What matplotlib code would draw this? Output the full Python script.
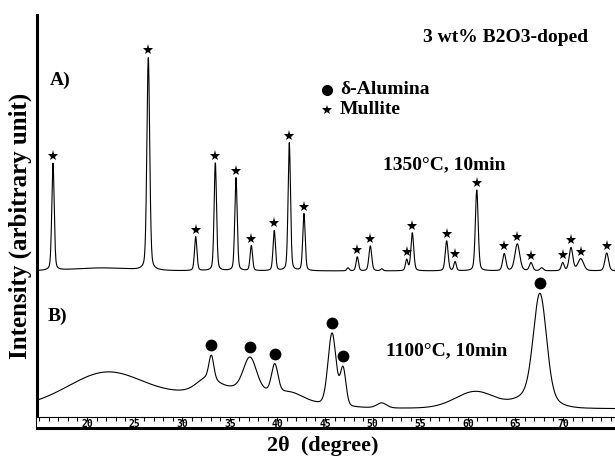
import numpy as np
import matplotlib.pyplot as plt
from matplotlib.ticker import MultipleLocator, FixedLocator

plt.rcParams['font.family'] = ['Liberation Serif', 'DejaVu Serif']
plt.rcParams['font.weight'] = 'bold'

# 2-theta range of the scan
tt_min, tt_max = 14.75, 75.46
two_theta = np.arange(tt_min, tt_max, 0.02)
ruler_labels = [20, 25, 30, 35, 40, 45, 50, 55, 60, 65, 70]

# A) 1350 C, 10 min -- peaks: position, height, width (fwhm)
a_pos = [16.43, 21.5, 26.44, 31.42, 33.48, 35.65, 37.26, 39.67, 41.25, 42.79,
         47.42, 48.39, 49.76, 50.96, 53.58, 54.17, 57.78, 58.66, 60.94,
         63.83, 65.20, 66.64, 67.76, 69.97, 70.84, 71.86, 74.59]
a_height = [107, 3, 213, 34, 108, 93, 25, 40, 128, 57,
            3, 14, 25, 2, 11, 38, 30, 9, 81,
            17, 27, 8, 3, 8, 23, 12, 18]
a_fwhm = [0.3, 7.0, 0.35, 0.3, 0.3, 0.3, 0.3, 0.3, 0.3, 0.3,
          0.3, 0.3, 0.35, 0.3, 0.3, 0.35, 0.35, 0.3, 0.35,
          0.4, 0.6, 0.4, 0.4, 0.35, 0.45, 0.7, 0.45]
a_star = [16.43, 26.44, 31.42, 33.48, 35.65, 37.26, 39.67, 41.25, 42.79,
          48.39, 49.76, 53.58, 54.17, 57.78, 58.66, 60.94,
          63.83, 65.20, 66.64, 69.97, 70.84, 71.86, 74.59]
a_base = 157

# B) 1100 C, 10 min
b_pos = [22.1, 35.5, 32.6, 33.06, 37.12, 39.72, 41.5, 45.74, 46.9, 50.95,
         60.8, 67.0, 67.58]
b_height = [36, 20, 12, 23, 32, 28, 6, 72, 37, 5,
            17, 14, 102]
b_fwhm = [10.0, 12.0, 2.5, 0.6, 1.6, 0.8, 3.0, 1.0, 0.7, 1.2,
          5.0, 4.0, 1.6]
b_dot = [33.06, 37.12, 39.72, 45.74, 46.9, 67.58]
b_base = 19


def pattern(x, pos, height, fwhm, base, eta=0.3):
    x = np.asarray(x, dtype=float)
    y = np.full_like(x, base)
    for p, h, w in zip(pos, height, fwhm):
        g = np.exp(-4 * np.log(2) * ((x - p) / w) ** 2)
        l = 1 / (1 + 4 * ((x - p) / w) ** 2)
        y += h * ((1 - eta) * g + eta * l)
    return y


fig = plt.figure(figsize=(6.15, 4.57), dpi=100)
ax = fig.add_axes([37 / 615, 29 / 457, 578 / 615, 413 / 457])

ax.plot(two_theta, pattern(two_theta, a_pos, a_height, a_fwhm, a_base),
        color='black', lw=0.8)
ax.plot(two_theta, pattern(two_theta, b_pos, b_height, b_fwhm, b_base, eta=0.15),
        color='black', lw=0.8)

ax.plot(a_star, pattern(a_star, a_pos, a_height, a_fwhm, a_base) + 7,
        '*', color='black', ms=8, mew=0)
ax.plot(b_dot, pattern(b_dot, b_pos, b_height, b_fwhm, b_base, eta=0.15) + 10,
        'o', color='black', ms=8.5, mew=0)

ax.set_xlim(tt_min, tt_max)
ax.set_ylim(0, 413)
ax.set_xticks([])
ax.set_yticks([])
for s in ['top', 'right', 'bottom']:
    ax.spines[s].set_visible(False)
ax.spines['left'].set_linewidth(2.2)

# labels inside the plot
ax.text(16.1, 348, 'A)', fontsize=14, va='center', ha='left')
ax.text(15.9, 112, 'B)', fontsize=14, va='center', ha='left')
ax.text(57.5, 263, '1350°C, 10min', fontsize=14, ha='center', va='center')
ax.text(57.8, 77, '1100°C, 10min', fontsize=14, ha='center', va='center')
ax.text(64.0, 391, '3 wt% B2O3-doped', fontsize=14, ha='center', va='center')

# phase legend
ax.plot([45.18], [338], 'o', color='black', ms=8, mew=0)
ax.plot([45.18], [318], '*', color='black', ms=7, mew=0)
ax.text(46.58, 338, 'δ-Alumina', fontsize=14, va='center', ha='left')
ax.text(46.58, 318, 'Mullite', fontsize=14, va='center', ha='left')

# ruler style x axis
rax = fig.add_axes([37 / 615, 29 / 457, 578 / 615, 11 / 457])
rax.set_xlim(tt_min, tt_max)
rax.set_yticks([])
rax.xaxis.set_major_locator(FixedLocator(ruler_labels))
rax.xaxis.set_minor_locator(MultipleLocator(1))
rax.tick_params(axis='x', which='both', top=True, bottom=False, direction='in',
                length=3, width=0.8, labelbottom=True, pad=-6.3,
                labelsize=7)
for lab in rax.get_xticklabels():
    lab.set_family('DejaVu Sans Mono')
    lab.set_weight('bold')
rax.spines['right'].set_visible(False)
rax.spines['left'].set_visible(False)
rax.spines['top'].set_linewidth(0.8)
rax.spines['bottom'].set_linewidth(2.2)

fig.text(0.033, 0.505, 'Intensity (arbitrary unit)', rotation=90,
         fontsize=18, ha='center', va='center')
fig.text(0.525, 0.024, '2θ  (degree)', fontsize=16, ha='center', va='center')

fig.savefig('out.png', dpi=100)
